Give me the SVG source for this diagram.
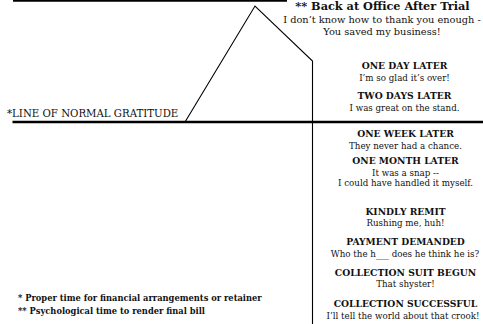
<svg xmlns="http://www.w3.org/2000/svg" width="483" height="324" viewBox="0 0 483 324">
  <style>
    text { font-family: "DejaVu Serif", "Liberation Serif", serif; fill: #111; }
    .head { font-size: 9.2px; font-weight: bold; text-anchor: middle; }
    .quote { font-size: 8.7px; text-anchor: middle; }
    .top { font-size: 9.8px; text-anchor: middle; }
    .title { font-size: 11.3px; font-weight: bold; text-anchor: middle; }
    .note { font-size: 8.3px; font-weight: bold; }
    .axis { fill: none; stroke: #000; stroke-width: 2.5; }
    .curve { fill: none; stroke: #000; stroke-width: 1.1; stroke-linejoin: miter; }
  </style>
  <rect width="483" height="324" fill="#fff"/>

  <g id="connectors">
    <!-- top rule and baseline of normal gratitude -->
    <line class="axis" x1="13" y1="0.5" x2="287" y2="0.5"/>
    <line class="axis" x1="12.5" y1="122" x2="483" y2="122"/>
    <!-- gratitude curve: rise, peak, decline, then falls below the line -->
    <polyline class="curve" points="185,122 255,6 312.5,61 312.5,324"/>
  </g>

  <g id="node-trial">
    <text class="title" x="382.5" y="10">** Back at Office After Trial</text>
    <text class="top" x="382" y="23">I don’t know how to thank you enough -</text>
    <text class="top" x="382" y="35">You saved my business!</text>
  </g>

  <g id="node-normal-line">
    <text style="font-size:10.2px" x="7" y="117">*LINE OF NORMAL GRATITUDE</text>
  </g>

  <g id="node-one-day">
    <text class="head" x="404.5" y="69">ONE DAY LATER</text>
    <text class="quote" x="404.5" y="81">I’m so glad it’s over!</text>
  </g>

  <g id="node-two-days">
    <text class="head" x="404.5" y="99">TWO DAYS LATER</text>
    <text class="quote" x="404.5" y="111">I was great on the stand.</text>
  </g>

  <g id="node-one-week">
    <text class="head" x="405.5" y="137">ONE WEEK LATER</text>
    <text class="quote" x="405.5" y="148.5">They never had a chance.</text>
  </g>

  <g id="node-one-month">
    <text class="head" x="405.5" y="164">ONE MONTH LATER</text>
    <text class="quote" x="405.5" y="175.5">It was a snap --</text>
    <text class="quote" x="405.5" y="186">I could have handled it myself.</text>
  </g>

  <g id="node-kindly-remit">
    <text class="head" x="405.5" y="215">KINDLY REMIT</text>
    <text class="quote" x="405.5" y="226">Rushing me, huh!</text>
  </g>

  <g id="node-payment-demanded">
    <text class="head" x="405.5" y="245">PAYMENT DEMANDED</text>
    <text class="quote" x="405" y="257">Who the h___ does he think he is?</text>
  </g>

  <g id="node-suit-begun">
    <text class="head" x="405.5" y="276">COLLECTION SUIT BEGUN</text>
    <text class="quote" x="405.5" y="287">That shyster!</text>
  </g>

  <g id="node-collection-successful">
    <text class="head" x="405.5" y="307">COLLECTION SUCCESSFUL</text>
    <text class="quote" x="403" y="319">I’ll tell the world about that crook!</text>
  </g>

  <g id="node-notes">
    <text class="note" x="18" y="301">*  Proper time for financial arrangements or retainer</text>
    <text class="note" x="18" y="314">** Psychological time to render final bill</text>
  </g>
</svg>
